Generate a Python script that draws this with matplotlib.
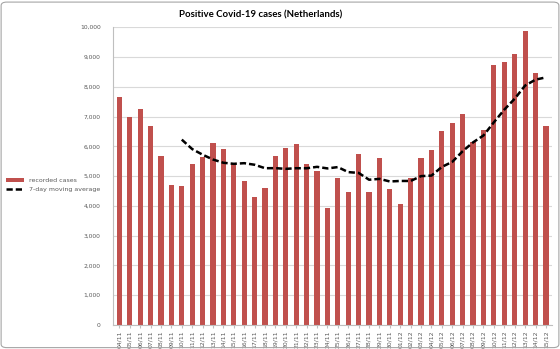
import numpy as np
import pandas as pd
import matplotlib.pyplot as plt
from matplotlib.ticker import FuncFormatter
from matplotlib.patches import FancyBboxPatch

dates = ['04/11', '05/11', '06/11', '07/11', '08/11', '09/11', '10/11', '11/11', '12/11', '13/11',
         '14/11', '15/11', '16/11', '17/11', '18/11', '19/11', '20/11', '21/11', '22/11', '23/11',
         '24/11', '25/11', '26/11', '27/11', '28/11', '29/11', '30/11', '01/12', '02/12', '03/12',
         '04/12', '05/12', '06/12', '07/12', '08/12', '09/12', '10/12', '11/12', '12/12', '13/12',
         '14/12', '15/12']
cases = [7640, 6970, 7240, 6680, 5670, 4690, 4680, 5420, 5650, 6100,
         5920, 5420, 4840, 4310, 4610, 5660, 5940, 6070, 5400, 5180,
         3940, 4920, 4480, 5750, 4470, 5600, 4570, 4060, 4920, 5620,
         5870, 6520, 6780, 7080, 6140, 6540, 8720, 8840, 9090, 9870,
         8470, 6680]

# 7-day moving average of the recorded cases
avg = pd.Series(cases).rolling(7).mean()

red = '#C0504D'
grey = '#595959'

fig = plt.figure(figsize=(5.6, 3.49), dpi=100)
ax = fig.add_axes([0.202, 0.069, 0.784, 0.853])

x = np.arange(len(dates))
bars = ax.bar(x, cases, width=0.5, color=red, label='recorded cases', zorder=2)
line, = ax.plot(x, avg, color='black', linestyle=(0, (2.5, 1.2)), linewidth=1.8,
                label='7-day moving average', zorder=3)

ax.set_xlim(-0.6, len(dates) - 0.4)
ax.set_ylim(0, 10000)
ax.set_yticks(np.arange(0, 10001, 1000))
ax.yaxis.set_major_formatter(FuncFormatter(lambda v, p: f'{int(v):,}'))
ax.set_xticks(x)
ax.set_xticklabels(dates, rotation=90, fontsize=4.4, color=grey)
ax.tick_params(axis='y', labelsize=4.3, colors=grey, length=0, pad=9)
ax.tick_params(axis='x', length=2, color='#BFBFBF', pad=2)
ax.grid(axis='y', color='#D9D9D9', linewidth=0.8, zorder=0)
ax.set_axisbelow(True)
for s in ['top', 'right']:
    ax.spines[s].set_visible(False)
ax.spines['left'].set_color('#BFBFBF')
ax.spines['bottom'].set_color('#BFBFBF')

fig.text(0.466, 0.958, 'Positive Covid-19 cases (Netherlands)', ha='center', va='center',
         fontsize=6.9, fontweight='bold', family=['Lato', 'DejaVu Sans'])

fig.legend(handles=[bars, line], loc='center left', bbox_to_anchor=(0.0, 0.47),
           frameon=False, fontsize=4.5, handlelength=3, labelcolor=grey)

border = FancyBboxPatch((0.002, 0.004), 0.996, 0.99, boxstyle='round,pad=0,rounding_size=0.01',
                        transform=fig.transFigure, fill=False, edgecolor='#A6A6A6', linewidth=0.8)
fig.patches.append(border)

fig.savefig('out.png', dpi=100)
